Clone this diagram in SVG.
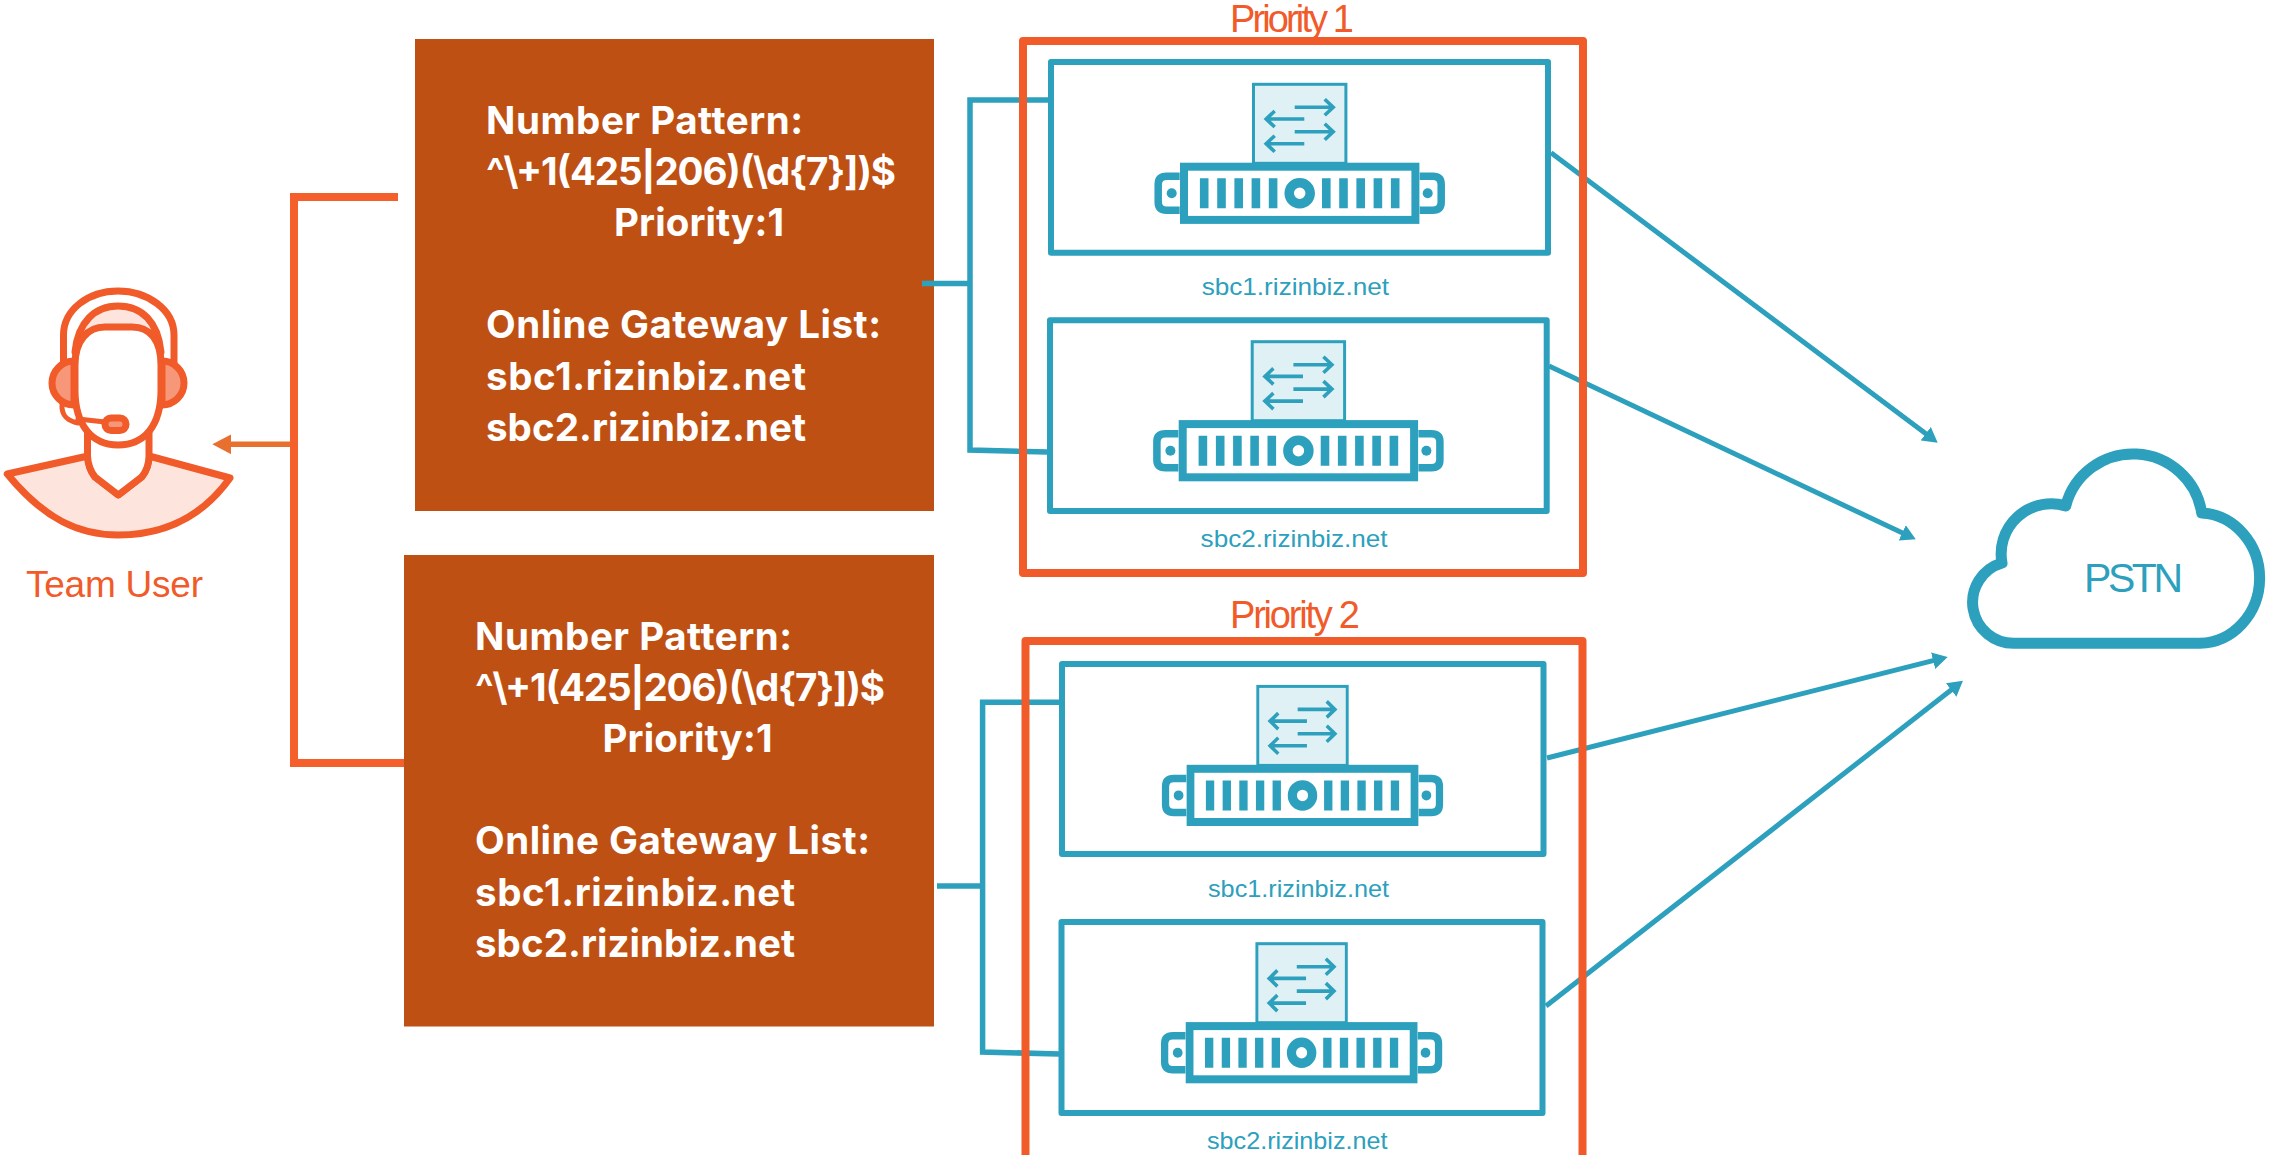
<svg xmlns="http://www.w3.org/2000/svg" width="2270" height="1155" viewBox="0 0 2270 1155">
<style>
.bg{fill:#ffffff}
.brown{fill:#bf5014}
.wt{font-family:"Inter","Liberation Sans",sans-serif;font-weight:700;font-size:38.5px;fill:#ffffff}
.or{font-family:"Liberation Sans",sans-serif;font-size:38px;fill:#f15a29}
.tl{font-family:"Liberation Sans",sans-serif;font-size:24px;fill:#2ca0bd}
.conn-o{fill:none;stroke:#f45f2b;stroke-width:8}
.conn-t{fill:none;stroke:#2ca0bd;stroke-width:5.5}
.conn-a{fill:none;stroke:#2ca0bd;stroke-width:5}
.prio{fill:none;stroke:#f15a29;stroke-width:8;stroke-linejoin:round}
.sbc{fill:none;stroke:#2ca0bd;stroke-width:6;stroke-linejoin:round}
.u{stroke:#f15a29;stroke-width:7;stroke-linejoin:round;stroke-linecap:round}
</style>
<defs>
<marker id="ah" markerUnits="userSpaceOnUse" markerWidth="18" markerHeight="18" refX="4" refY="9" orient="auto"><path d="M0 0.5L15 9L0 17.5Z" fill="#2ca0bd"/></marker>
<marker id="au" markerUnits="userSpaceOnUse" markerWidth="20" markerHeight="20" refX="9.3" refY="10" orient="auto"><path d="M0 0L19 10L0 20Z" fill="#e8702f"/></marker>
<g id="server">
<rect x="-46.2" y="-109" width="92.4" height="79" fill="#e0f1f6" stroke="#2ca0bd" stroke-width="3"/>
<path d="M-5-86H33M25-94L33.5-86L25-78M4.6-74.3H-33M-25-82.3L-33.5-74.3L-25-66.3M-5-61.6H33M25-69.6L33.5-61.6L25-53.6M4.6-49.6H-33M-25-57.6L-33.5-49.6L-25-41.6" fill="none" stroke="#2ca0bd" stroke-width="3.6"/>
<rect x="-115.7" y="-26.6" width="231.4" height="53.2" fill="#ffffff" stroke="#2ca0bd" stroke-width="8"/>
<path d="M-120-17H-133Q-141.5-17-141.5-9V9Q-141.5 17-133 17H-120M120-17H133Q141.5-17 141.5-9V9Q141.5 17 133 17H120" fill="none" stroke="#2ca0bd" stroke-width="7.5"/>
<circle cx="-128" cy="0" r="5" fill="#2ca0bd"/><circle cx="128" cy="0" r="5" fill="#2ca0bd"/>
<path d="M-95.5-15V15M-78.2-15V15M-61-15V15M-43.8-15V15M-26.6-15V15M26.6-15V15M43.8-15V15M61-15V15M78.2-15V15M95.5-15V15" fill="none" stroke="#2ca0bd" stroke-width="8.6"/>
<circle cx="0" cy="0" r="10.5" fill="#ffffff" stroke="#2ca0bd" stroke-width="9.5"/>
</g>
</defs>
<rect class="bg" width="2270" height="1155"/>
<g id="team-user">
<path d="M7.3 474L88 456Q88 468 95 477L118.3 495L141.7 477Q149 468 149 456L230 478C200 520 160 535 118 535C80 535 45 520 7.3 474Z" fill="#fde4dd" class="u"/>
<path d="M87.5 430V456Q88 468 95 477L118.3 495L141.7 477Q149 468 149 456V430" fill="#ffffff" class="u"/>
<path d="M75 352C78 322 95 306 118 306C142 306 158 322 161 352Z" fill="#fde4dd" class="u"/>
<path d="M63.5 362V335C63.5 310 88 291 118 291C148 291 174 310 174 335V362" fill="none" class="u"/>
<path d="M74 361A22 22 0 0 0 74 405Z" fill="#f79779" class="u"/>
<path d="M162 361A22 22 0 0 1 162 405Z" fill="#f79779" class="u"/>
<path d="M75 365C75 340 88 327 105 327H132C150 327 161 340 161 365V390C161 425 145 445 118 445C92 445 75 425 75 390Z" fill="#ffffff" class="u"/>
<path d="M62 403V408C63 417 68 421 78 423M78 419L105 422" fill="none" class="u" style="stroke-width:5"/>
<rect x="105" y="418" width="21" height="12.5" rx="6" fill="#f79779" class="u"/>
<text class="or" style="font-size:37px" x="26" y="597" textLength="177">Team User</text>
</g>
<g id="route-1">
<rect class="brown" x="415" y="39" width="519" height="472"/>
<text class="wt" x="486" y="134" textLength="317">Number Pattern:</text>
<text class="wt" x="486" y="184.5" textLength="410">^\+1(425|206)(\d{7}])$</text>
<text class="wt" x="614" y="235.5" textLength="170">Priority:1</text>
<text class="wt" x="486" y="337.5" textLength="395">Online Gateway List:</text>
<text class="wt" x="486" y="389.5" textLength="320">sbc1.rizinbiz.net</text>
<text class="wt" x="486" y="440.5" textLength="320">sbc2.rizinbiz.net</text>
</g>
<g id="route-2">
<rect class="brown" x="404" y="555" width="530" height="471.5"/>
<text class="wt" x="475" y="649.5" textLength="317">Number Pattern:</text>
<text class="wt" x="475" y="700.5" textLength="410">^\+1(425|206)(\d{7}])$</text>
<text class="wt" x="602.5" y="751.5" textLength="170">Priority:1</text>
<text class="wt" x="475" y="853.5" textLength="395">Online Gateway List:</text>
<text class="wt" x="475" y="905.5" textLength="320">sbc1.rizinbiz.net</text>
<text class="wt" x="475" y="956.5" textLength="320">sbc2.rizinbiz.net</text>
</g>
<g id="connectors">
<path class="conn-o" d="M398 197H294V763H404"/>
<path d="M290 444.3H222" fill="none" stroke="#e8702f" stroke-width="5.5" marker-end="url(#au)"/>
<path class="conn-t" d="M922 283.5H970"/>
<path class="conn-t" d="M1048 100H970V450L1047 452"/>
<path class="conn-t" d="M937 886H982.6"/>
<path class="conn-t" d="M1059 702.3H982.6V1052L1059 1054"/>
<path class="conn-a" d="M1551 152.7L1928.9 436.1" marker-end="url(#ah)"/>
<path class="conn-a" d="M1549 366L1905.8 534.6" marker-end="url(#ah)"/>
<path class="conn-a" d="M1547 758L1937 659.7" marker-end="url(#ah)"/>
<path class="conn-a" d="M1546 1006L1954.3 687.5" marker-end="url(#ah)"/>
</g>
<g id="priority-1">
<rect class="prio" x="1023" y="41" width="560" height="532"/>
<text class="or" x="1230" y="32" textLength="124">Priority 1</text>
</g>
<g id="priority-2">
<rect class="prio" x="1025.5" y="641" width="557" height="530"/>
<text class="or" x="1230" y="628" textLength="130">Priority 2</text>
</g>
<g id="sbc1-p1">
<rect class="sbc" x="1051" y="62" width="497" height="190.7"/>
<use href="#server" transform="translate(1299.7 193.3)"/>
<text class="tl" x="1201.7" y="295" textLength="187.3" lengthAdjust="spacingAndGlyphs">sbc1.rizinbiz.net</text>
</g>
<g id="sbc2-p1">
<rect class="sbc" x="1050" y="320.3" width="496.7" height="190.7"/>
<use href="#server" transform="translate(1298.4 450.7)"/>
<text class="tl" x="1200.6" y="547.3" textLength="187" lengthAdjust="spacingAndGlyphs">sbc2.rizinbiz.net</text>
</g>
<g id="sbc1-p2">
<rect class="sbc" x="1062" y="664" width="481.5" height="190"/>
<use href="#server" transform="translate(1302.5 795.4) scale(.968 1)"/>
<text class="tl" x="1208" y="897.3" textLength="181" lengthAdjust="spacingAndGlyphs">sbc1.rizinbiz.net</text>
</g>
<g id="sbc2-p2">
<rect class="sbc" x="1061.5" y="922" width="481" height="191"/>
<use href="#server" transform="translate(1301.6 1052.7) scale(.968 1)"/>
<text class="tl" x="1207" y="1149.3" textLength="180.5" lengthAdjust="spacingAndGlyphs">sbc2.rizinbiz.net</text>
</g>
<g id="pstn">
<path d="M2015 643.3H2200A61 65.2 0 0 0 2201.7 513A69.5 69.5 0 0 0 2065.7 506A50 50 0 0 0 2002 563A41 41 0 0 0 2015 643.3Z" fill="#ffffff" stroke="#2ca0bd" stroke-width="11" stroke-linejoin="round"/>
<text x="2084" y="592" font-family="Liberation Sans, sans-serif" font-size="41" fill="#2ca0bd" textLength="99">PSTN</text>
</g>
</svg>
